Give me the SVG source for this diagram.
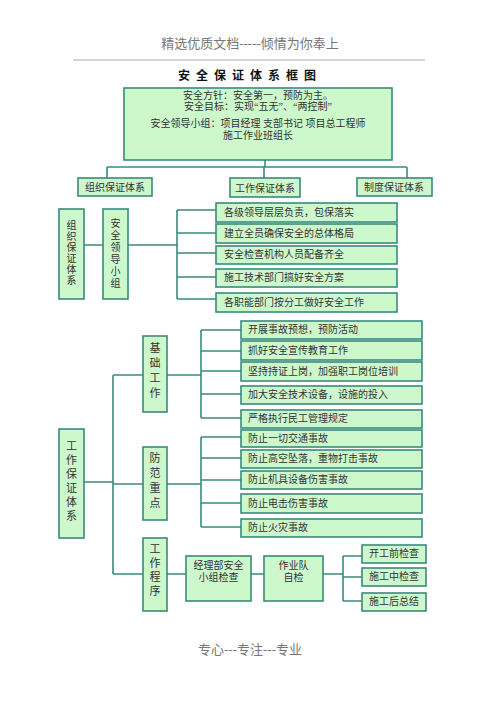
<svg xmlns="http://www.w3.org/2000/svg" width="500" height="707" viewBox="0 0 500 707">
<style>
.b{fill:#ccf8cc;stroke:#3a8a7e;stroke-width:1.6}
.c{fill:none;stroke:#3a8a7e;stroke-width:1.6}
text{font-family:"Liberation Serif","Noto Sans CJK SC",serif;fill:#333;font-size:10px}
.m{text-anchor:middle}
.g{fill:#777;font-size:13px}
.v{text-anchor:middle;font-size:11px}
.s{text-anchor:middle;font-size:10px}
</style>
<rect width="500" height="707" fill="#fff"/>
<text class="g m" x="250" y="48">精选优质文档-----倾情为你奉上</text>
<line x1="73" y1="60" x2="425" y2="60" stroke="#aaa" stroke-width="1.2"/>
<text class="m" x="250" y="80" style="font-size:12px;font-weight:bold;fill:#111;letter-spacing:6px">安全保证体系框图</text>

<g id="connectors" class="c">
<path d="M265 160V167M107 167H407M107 167V178M264 167V178M407 167V178"/>
<path d="M84 245H103M128 245H177M177 210V299M177 210H216M177 233H216M177 253H216M177 277H216M177 299H216"/>
<path d="M84 482H113M113 375V574M113 375H143M113 484H143M113 574H143"/>
<path d="M167 375H201M201 330V418M201 330H241M201 351H241M201 371H241M201 394H241M201 418H241"/>
<path d="M167 484H201M201 437V527M201 437H241M201 458H241M201 480H241M201 503H241M201 527H241"/>
<path d="M167 574H186M251 574H264M323 574H343M343 556V601M343 556H362M343 577H362M343 601H362"/>
</g>

<g id="top">
<rect class="b" x="124" y="88" width="268" height="72"/>
<text class="m" x="258" y="99">安全方针：安全第一，预防为主。</text>
<text class="m" x="258" y="110">安全目标：实现“五无”、“两控制”</text>
<text class="m" x="258" y="127">安全领导小组：项目经理  支部书记  项目总工程师</text>
<text class="m" x="258" y="139">施工作业班组长</text>
</g>
<g id="org"><rect class="b" x="78" y="178" width="74" height="18"/><text class="m" x="115" y="191">组织保证体系</text></g>
<g id="work"><rect class="b" x="230" y="178" width="70" height="19"/><text class="m" x="265" y="192">工作保证体系</text></g>
<g id="rule"><rect class="b" x="357" y="178" width="75" height="18"/><text class="m" x="394" y="191">制度保证体系</text></g>

<g id="org-v"><rect class="b" x="59" y="209" width="25" height="90"/>
<text class="s"><tspan x="71.5" y="229">组</tspan><tspan x="71.5" y="240">织</tspan><tspan x="71.5" y="251">保</tspan><tspan x="71.5" y="262">证</tspan><tspan x="71.5" y="273">体</tspan><tspan x="71.5" y="284">系</tspan></text></g>
<g id="leader"><rect class="b" x="103" y="209" width="25" height="90"/>
<text class="s"><tspan x="115.5" y="227">安</tspan><tspan x="115.5" y="239">全</tspan><tspan x="115.5" y="251">领</tspan><tspan x="115.5" y="263">导</tspan><tspan x="115.5" y="275">小</tspan><tspan x="115.5" y="287">组</tspan></text></g>

<g id="o1"><rect class="b" x="216" y="203" width="181" height="19"/><text x="224" y="216">各级领导层层负责，包保落实</text></g>
<g id="o2"><rect class="b" x="216" y="224" width="181" height="19"/><text x="224" y="237">建立全员确保安全的总体格局</text></g>
<g id="o3"><rect class="b" x="216" y="246" width="181" height="18"/><text x="224" y="258">安全检查机构人员配备齐全</text></g>
<g id="o4"><rect class="b" x="216" y="269" width="181" height="18"/><text x="224" y="281">施工技术部门搞好安全方案</text></g>
<g id="o5"><rect class="b" x="216" y="293" width="181" height="19"/><text x="224" y="306">各职能部门按分工做好安全工作</text></g>

<g id="work-v"><rect class="b" x="59" y="429" width="25" height="109"/>
<text class="v"><tspan x="71.5" y="450">工</tspan><tspan x="71.5" y="464">作</tspan><tspan x="71.5" y="478">保</tspan><tspan x="71.5" y="492">证</tspan><tspan x="71.5" y="506">体</tspan><tspan x="71.5" y="520">系</tspan></text></g>

<g id="basic"><rect class="b" x="143" y="336" width="24" height="76"/>
<text class="v"><tspan x="155" y="352">基</tspan><tspan x="155" y="367">础</tspan><tspan x="155" y="382">工</tspan><tspan x="155" y="397">作</tspan></text></g>
<g id="b1"><rect class="b" x="241" y="321" width="181" height="18"/><text x="248" y="333">开展事故预想，预防活动</text></g>
<g id="b2"><rect class="b" x="241" y="341" width="181" height="19"/><text x="248" y="354">抓好安全宣传教育工作</text></g>
<g id="b3"><rect class="b" x="241" y="362" width="181" height="19"/><text x="248" y="375">坚持持证上岗，加强职工岗位培训</text></g>
<g id="b4"><rect class="b" x="241" y="386" width="181" height="18"/><text x="248" y="398">加大安全技术设备，设施的投入</text></g>
<g id="b5"><rect class="b" x="241" y="410" width="181" height="18"/><text x="248" y="422">严格执行民工管理规定</text></g>

<g id="prevent"><rect class="b" x="143" y="447" width="24" height="73"/>
<text class="v"><tspan x="155" y="462">防</tspan><tspan x="155" y="477">范</tspan><tspan x="155" y="492">重</tspan><tspan x="155" y="507">点</tspan></text></g>
<g id="p1"><rect class="b" x="241" y="430" width="181" height="17"/><text x="248" y="442">防止一切交通事故</text></g>
<g id="p2"><rect class="b" x="241" y="450" width="181" height="18"/><text x="248" y="462">防止高空坠落，重物打击事故</text></g>
<g id="p3"><rect class="b" x="241" y="471" width="181" height="18"/><text x="248" y="483">防止机具设备伤害事故</text></g>
<g id="p4"><rect class="b" x="241" y="494" width="181" height="19"/><text x="248" y="507">防止电击伤害事故</text></g>
<g id="p5"><rect class="b" x="241" y="519" width="181" height="18"/><text x="248" y="531">防止火灾事故</text></g>

<g id="proc"><rect class="b" x="143" y="538" width="24" height="73"/>
<text class="v"><tspan x="155" y="553">工</tspan><tspan x="155" y="567">作</tspan><tspan x="155" y="581">程</tspan><tspan x="155" y="595">序</tspan></text></g>
<g id="mgr"><rect class="b" x="186" y="556" width="65" height="45"/><text class="m" x="218.5" y="569">经理部安全</text><text class="m" x="218.5" y="581">小组检查</text></g>
<g id="team"><rect class="b" x="264" y="556" width="59" height="45"/><text class="m" x="293.5" y="569">作业队</text><text class="m" x="293.5" y="581">自检</text></g>
<g id="c1"><rect class="b" x="362" y="545" width="64" height="18"/><text class="m" x="394" y="557">开工前检查</text></g>
<g id="c2"><rect class="b" x="362" y="568" width="64" height="18"/><text class="m" x="394" y="580">施工中检查</text></g>
<g id="c3"><rect class="b" x="362" y="593" width="64" height="18"/><text class="m" x="394" y="605">施工后总结</text></g>

<text class="g m" x="250" y="654">专心---专注---专业</text>
</svg>
